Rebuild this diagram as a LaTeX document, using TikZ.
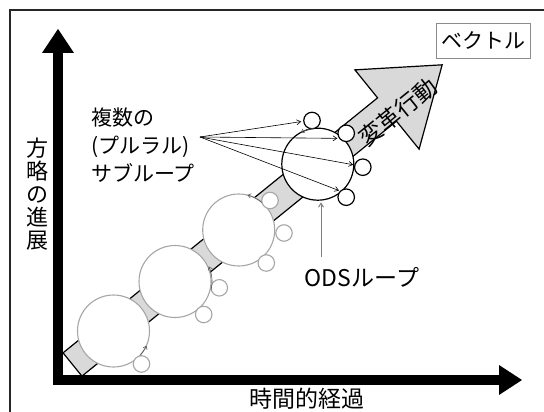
\documentclass[tikz,border=0pt]{standalone}
\usepackage{fontspec}
\newfontfamily\jp{Noto Sans CJK JP}
\usetikzlibrary{arrows.meta,calc}
\definecolor{bandgray}{HTML}{D9D9D9}
\definecolor{loopgray}{HTML}{A6A6A6}
\begin{document}
\begin{tikzpicture}[x=1pt,y=-1pt,
  bigloop/.style={circle,draw=loopgray,line width=1.1pt,fill=white,minimum size=72pt,inner sep=0pt},
  smallloop/.style={circle,draw=loopgray,line width=1.1pt,fill=white,minimum size=16.5pt,inner sep=0pt},
  odsloop/.style={circle,draw=black,line width=1.2pt,fill=white,minimum size=72pt,inner sep=0pt},
  odssmall/.style={circle,draw=black,line width=1.2pt,fill=white,minimum size=16.5pt,inner sep=0pt},
  turnarrow/.style={draw=black!65,line width=0.6pt,-{Straight Barb[length=3pt,width=4.5pt]}},
  leader/.style={draw=black,line width=0.6pt,-{Straight Barb[length=4pt,width=5pt]}},
  odsarrow/.style={draw=black!50,line width=1pt,-{Straight Barb[length=4pt,width=5pt]}},
  axisline/.style={line width=10pt,black},
  lbl/.style={inner sep=0pt,font=\jp\fontsize{21}{28}\selectfont},
]
\useasboundingbox (0,0) rectangle (544,412);
% frame
\draw[black!85,line width=1.4pt] (10,420) -- (10,10) -- (550,10);

% vector band
\coordinate (S1) at (63.06,352.84);
\coordinate (S2) at (81.94,376.16);
\coordinate (H1) at (377.56,97.84);
\coordinate (H2) at (396.44,121.16);
\coordinate (Hc1) at (354.91,69.87);
\coordinate (Hc2) at (419.09,149.13);
\coordinate (T) at (442.17,64.82);
\draw[fill=bandgray,line width=1.2pt,line join=miter] (S1) -- (H1) -- (Hc1) -- (T) -- (Hc2) -- (H2) -- (S2) -- cycle;

% loops
\node[bigloop] (c1) at (113.5,331) {};
\node[bigloop] (c2) at (175,281.5) {};
\node[bigloop] (c3) at (238.7,230) {};
\node[odsloop] (ods) at (317.8,164.2) {};

\node[smallloop] (s11) at (141.5,364) {};
\node[smallloop] (s21) at (203.7,314.5) {};
\node[smallloop] (s22) at (219.3,287.8) {};
\node[smallloop] (s31) at (270,200.5) {};
\node[smallloop] (s32) at (284,233) {};
\node[smallloop] (s33) at (266.3,263) {};
\node[odssmall] (sA) at (312,120.5) {};
\node[odssmall] (sB) at (346.2,133.3) {};
\node[odssmall] (sC) at (362.8,167.2) {};
\node[odssmall] (sD) at (346.2,197.2) {};

% rotation arrows on loops
\draw[turnarrow] ($(c1)+(42:36)$) arc[start angle=42,end angle=24,radius=36];
\draw[turnarrow] ($(c2)+(14:37)$) arc[start angle=14,end angle=-24,radius=37];
\draw[turnarrow] ($(c3)+(-50:36)$) arc[start angle=-50,end angle=-76,radius=36];
\draw[turnarrow] ($(ods)+(-97:36)$) arc[start angle=-97,end angle=-118,radius=36];

% labels
\node[lbl,anchor=west,align=left] (plural) at (91,145) {複数の\\(プルラル)\\サブループ};
\coordinate (lp) at (200,137);
\draw[leader,shorten >=2pt] (lp) -- (sA.185);
\draw[leader,shorten >=1.5pt] (lp) -- (sB.215);
\draw[leader,shorten >=1pt] (lp) -- (sC.165);
\draw[leader,shorten >=1pt] (lp) -- (sD.135);

\node[inner sep=0pt,font=\jp\fontsize{23}{23}\selectfont] (odsl) at (362,277) {ODSループ};
\coordinate (odsa) at (321,257);
\draw[odsarrow,shorten >=1.5pt] (odsa) -- (odsa |- ods.south);

\node[rotate=39,inner sep=0pt,font=\jp\fontsize{23}{23}\selectfont] (henkaku) at (398,112) {変革行動};

\node[draw=black!45,line width=0.8pt,minimum width=94pt,minimum height=35pt,inner sep=0pt,font=\jp\fontsize{21}{21}\selectfont] (vec) at (483,40.5) {ベクトル};

\node[inner sep=0pt,align=center,font=\jp\fontsize{22}{23}\selectfont] (ylab) at (37.5,194) {方\\略\\の\\進\\展};
\node[inner sep=0pt,font=\jp\fontsize{23}{23}\selectfont] (xlab) at (306.5,398.5) {時間的経過};

% axes
\coordinate (O) at (58,380);
\coordinate (yb) at (58,385);
\coordinate (yh) at (58,53);
\coordinate (yt) at (58,29);
\coordinate (xb) at (53,380);
\coordinate (xh) at (499,380);
\coordinate (xt) at (522,380);
\draw[axisline] (yb) -- (yh);
\draw[axisline] (xb) -- (xh);
\fill[black] ($(yh)+(-16,0)$) -- ($(yh)+(16,0)$) -- (yt) -- cycle;
\fill[black] ($(xh)+(0,-15)$) -- ($(xh)+(0,15)$) -- (xt) -- cycle;
\end{tikzpicture}
\end{document}
